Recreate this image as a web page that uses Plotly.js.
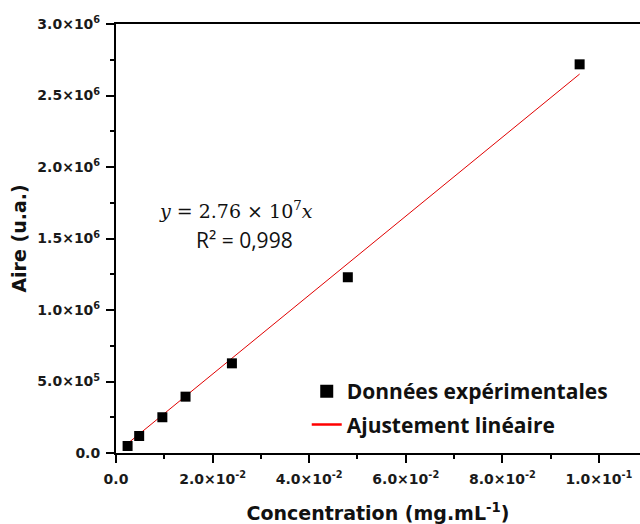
<!DOCTYPE html>
<html>
<head>
<meta charset="utf-8">
<script src="https://cdn.plot.ly/plotly-3.0.1.min.js"></script>
<style>html,body{margin:0;padding:0;background:#fff;}#chart{width:640px;height:524px;}</style>
</head>
<body>
<div id="chart"></div>
<script>
// Data
const concentration = [0.0024, 0.0048, 0.0096, 0.0144, 0.024, 0.048, 0.096];
const aire = [49000, 119000, 250000, 394000, 627000, 1229000, 2718000];
const fitX = [0.0024, 0.096];
const fitY = [66000, 2650000];
const xTickVals = [0, 0.02, 0.04, 0.06, 0.08, 0.1];
const xTickText = ['0.0', '2.0×10<sup>-2</sup>', '4.0×10<sup>-2</sup>', '6.0×10<sup>-2</sup>', '8.0×10<sup>-2</sup>', '1.0×10<sup>-1</sup>'];
const yTickVals = [0, 500000, 1000000, 1500000, 2000000, 2500000, 3000000];
const yTickText = ['0.0', '5.0×10<sup>5</sup>', '1.0×10<sup>6</sup>', '1.5×10<sup>6</sup>', '2.0×10<sup>6</sup>', '2.5×10<sup>6</sup>', '3.0×10<sup>6</sup>'];
const legendNames = ['Données expérimentales', 'Ajustement linéaire'];

const tickFont = {family: 'DejaVu Sans, sans-serif', size: 14, color: '#1a1a1a', weight: 'bold'};
const titleFont = {family: 'DejaVu Sans, sans-serif', size: 19, color: '#111', weight: 'bold'};

const traces = [
  {x: fitX, y: fitY, mode: 'lines', line: {color: '#e00000', width: 1}, showlegend: false, hoverinfo: 'skip'},
  {x: concentration, y: aire, mode: 'markers', marker: {symbol: 'square', size: 10, color: '#000'}, showlegend: false},
  {x: [null], y: [null], mode: 'markers', name: legendNames[0], marker: {symbol: 'square', size: 13, color: '#000'}, legendgroup: 'a'},
  {x: [null], y: [null], mode: 'lines', name: legendNames[1], line: {color: '#ff0000', width: 2.5}, legendgroup: 'b'}
];

const layout = {
  width: 640, height: 524,
  margin: {l: 116, r: 0, t: 24, b: 71},
  paper_bgcolor: '#fff', plot_bgcolor: '#fff',
  showlegend: true,
  legend: {x: 0.364, y: 0.191, xanchor: 'left', yanchor: 'top', bgcolor: 'rgba(0,0,0,0)',
    font: {family: 'Open Sans, sans-serif', size: 21, color: '#111', weight: 'bold'},
    traceorder: 'grouped', tracegroupgap: 3},
  xaxis: {
    range: [0, 0.1085], showgrid: false, zeroline: false,
    showline: true, linecolor: '#000', linewidth: 2, mirror: true,
    ticks: 'outside', ticklen: 8, tickwidth: 2, tickcolor: '#000', ticklabelstandoff: 4,
    tickmode: 'array', tickvals: xTickVals, ticktext: xTickText,
    tickfont: tickFont,
    minor: {tickmode: 'linear', tick0: 0, dtick: 0.01, ticks: 'outside', ticklen: 4, tickwidth: 2, tickcolor: '#000'},
    title: {text: 'Concentration (mg.mL<sup>-1</sup>)', font: titleFont, standoff: 21}
  },
  yaxis: {
    range: [0, 3000000], showgrid: false, zeroline: false,
    showline: true, linecolor: '#000', linewidth: 2,
    ticks: 'outside', ticklen: 8, tickwidth: 2, tickcolor: '#000', ticklabelstandoff: 3,
    tickmode: 'array', tickvals: yTickVals, ticktext: yTickText,
    tickfont: tickFont,
    minor: {tickmode: 'linear', tick0: 0, dtick: 250000, ticks: 'outside', ticklen: 4, tickwidth: 2, tickcolor: '#000'},
    title: {text: 'Aire (u.a.)', font: titleFont, standoff: 6}
  },
  annotations: [
    {xref: 'paper', yref: 'paper', x: 0.229, y: 0.566, xanchor: 'center', yanchor: 'middle', showarrow: false,
     text: '<i>y</i> = 2.76 × 10<sup>7</sup><i>x</i>', font: {family: 'DejaVu Serif, serif', size: 19, color: '#111'}},
    {xref: 'paper', yref: 'paper', x: 0.245, y: 0.497, xanchor: 'center', yanchor: 'middle', showarrow: false,
     text: 'R² = 0,998', font: {family: 'Open Sans, sans-serif', size: 21, color: '#111'}}
  ]
};

Plotly.newPlot('chart', traces, layout, {displayModeBar: false, staticPlot: true});
</script>
</body>
</html>
